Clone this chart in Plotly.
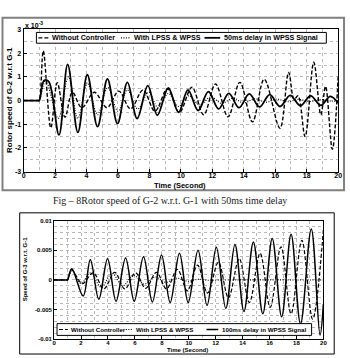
import plotly.graph_objects as go

W, H = 350, 358

# ---------------- Top chart data (values in units of 1e-3) ----------------
t_top_nc = [0, 0.95, 1.0, 1.25, 1.73, 2.14, 2.63, 3.1, 3.7, 4.5, 5.3, 6.05, 6.8, 7.6, 8.35, 9.15,
            9.9, 10.7, 11.45, 12.2, 13.0, 13.75, 14.55, 15.3, 16.3, 16.85, 17.2, 17.45, 17.9,
            18.45, 18.9, 19.2, 19.63, 20]
v_top_nc = [0, 0, 0, 2.1, -1.15, 0.75, -0.7, 0.35, -0.3, 0.35, -0.3, 0.4, -0.35, 0.45, -0.45, 0.5,
            -0.5, 0.56, -0.6, 0.7, -0.69, 0.77, -0.9, 0.9, -1.17, 1.19, 0.05, 0.2, -1.52,
            1.62, -0.6, 0.6, -2.06, 1.0]

t_top_lw = [0, 0.95, 1.0, 1.4, 2.2, 2.85, 3.45, 4.05, 4.7, 5.35, 6.0, 6.6, 7.25, 7.95, 8.55, 9.2,
            9.85, 10.5, 11.2, 11.9, 12.6, 13.3, 14.0, 14.7, 15.4, 16.1, 16.8, 17.5, 18.2, 18.9,
            19.6, 20]
v_top_lw = [0, 0, 0, 0.85, -0.75, 1.0, -0.75, 0.75, -0.6, 0.55, -0.45, 0.45, -0.35, 0.35, -0.3, 0.3,
            -0.25, 0.2, -0.18, 0.15, -0.12, 0.1, -0.1, 0.08, -0.07, 0.06, -0.05, 0.05, -0.04, 0.04,
            -0.03, 0]

t_top_d = [0, 0.95, 1.0, 1.3, 1.6, 2.25, 2.8, 3.45, 4.05, 4.7, 5.33, 5.97, 6.6, 7.22, 7.9, 8.5,
           9.2, 9.85, 10.45, 11.1, 11.75, 12.4, 13.05, 13.7, 14.35, 15.0, 15.65, 16.3, 16.95,
           17.6, 18.25, 18.9, 19.5, 20]
v_top_d = [0, 0, 0, 0.85, 0.8, -1.45, 1.53, -1.34, 1.09, -1.1, 0.91, -0.97, 0.77, -0.76, 0.63, -0.62,
           0.53, -0.5, 0.45, -0.42, 0.38, -0.35, 0.3, -0.3, 0.28, -0.27, 0.25, -0.25, 0.22,
           -0.22, 0.2, -0.2, 0.18, -0.1]

top_yticks = [-3, -2, -1, 0, 1, 2, 3]
top_ytext = ["-3", "-2", "-1", "0", "1", "2", "3"]

# ---------------- Bottom chart data ----------------
t_bot_nc = [0, 0.95, 1.0, 1.3, 2.1, 2.9, 3.7, 4.5, 5.25, 6.05, 6.8, 7.6, 8.35, 9.15, 9.9, 10.65,
            11.4, 12.2, 12.95, 13.75, 14.5, 15.3, 16.05, 16.85, 17.6, 18.4, 19.2, 20]
v_bot_nc = [0, 0, 0, 0.0017, -0.0006, 0.0012, -0.0015, 0.0013, -0.0015, 0.0012, -0.0014, 0.0013,
            -0.0015, 0.0018, -0.0018, 0.0025, -0.0022, 0.003, -0.003, 0.0036, -0.0038, 0.0045,
            -0.0046, 0.0056, -0.0057, 0.0067, -0.0066, 0.0085]

t_bot_lw = [0, 0.95, 1.0, 1.35, 2.0, 2.7, 3.5, 4.3, 5.1, 5.9, 6.7, 7.5, 8.3, 9.1, 9.9, 10.7,
            11.5, 12.5, 20]
v_bot_lw = [0, 0, 0, 0.0017, -0.0006, 0.0012, -0.0012, 0.0011, -0.001, 0.0008, -0.0007, 0.0005,
            -0.0004, 0.0003, -0.0002, 0.0001, -0.00005, 0, 0]

t_bot_d = [0, 0.95, 1.0, 1.31, 2.16, 2.69, 3.32, 3.97, 4.6, 5.31, 5.95, 6.64, 7.3, 7.98, 8.62,
           9.31, 9.96, 10.69, 11.36, 12.05, 12.75, 13.43, 14.1, 14.8, 15.5, 16.2, 16.9, 17.6,
           18.3, 19.1, 19.75, 20]
v_bot_d = [0, 0, 0, 0.0019, -0.0027, 0.0034, -0.00325, 0.0036, -0.0036, 0.0037, -0.0036, 0.0039,
           -0.0037, 0.0042, -0.0038, 0.0045, -0.0038, 0.005, -0.0043, 0.0055, -0.0048, 0.006,
           -0.0053, 0.0064, -0.0057, 0.007, -0.0062, 0.0077, -0.0074, 0.0086, -0.0093, -0.004]

bot_yticks = [-0.01, -0.005, 0, 0.005, 0.01]
bot_ytext = ["-0.01", "-0.005", "0", "0.005", "0.01"]

legend_top = ["Without Controller", "With LPSS & WPSS", "50ms delay in WPSS Signal"]
legend_bot = ["Without Controller", "With LPSS & WPSS", "100ms delay in WPSS Signal"]
caption = "Fig \u2013 8Rotor speed of G-2 w.r.t. G-1 with 50ms time delay"


def px(x):
    return x / W


def py(y):
    return 1 - y / H


DASH = "4px,2px"
DOT = "1px,1.5px"

fig = go.Figure()
fig.add_trace(go.Scatter(x=t_top_lw, y=v_top_lw, mode="lines", xaxis="x", yaxis="y",
                         line=dict(color="black", width=1.1, dash=DOT, shape="spline", smoothing=1.0)))
fig.add_trace(go.Scatter(x=t_top_nc, y=v_top_nc, mode="lines", xaxis="x", yaxis="y",
                         line=dict(color="black", width=1.4, dash=DASH, shape="spline", smoothing=1.0)))
fig.add_trace(go.Scatter(x=t_top_d, y=v_top_d, mode="lines", xaxis="x", yaxis="y",
                         line=dict(color="black", width=1.8, shape="spline", smoothing=1.0)))

fig.add_trace(go.Scatter(x=t_bot_lw, y=v_bot_lw, mode="lines", xaxis="x2", yaxis="y2",
                         line=dict(color="black", width=1.1, dash=DOT, shape="spline", smoothing=1.0)))
fig.add_trace(go.Scatter(x=t_bot_nc, y=v_bot_nc, mode="lines", xaxis="x2", yaxis="y2",
                         line=dict(color="black", width=1.2, dash=DASH, shape="spline", smoothing=1.0)))
fig.add_trace(go.Scatter(x=t_bot_d, y=v_bot_d, mode="lines", xaxis="x2", yaxis="y2",
                         line=dict(color="black", width=1.5, shape="spline", smoothing=1.0)))

GRID = "#b8b8b8"
tf_top = dict(family="Liberation Sans", size=7, color="black", weight="bold")
tf_bot = dict(family="Liberation Sans", size=6, color="black", weight="bold")

common = dict(showline=True, mirror=True, linecolor="black", linewidth=1, zeroline=False,
              showgrid=True, gridcolor=GRID, griddash="dot", gridwidth=1,
              ticks="inside", ticklen=3, tickcolor="black")

fig.update_layout(
    width=W, height=H, margin=dict(l=0, r=0, t=0, b=0),
    paper_bgcolor="white", plot_bgcolor="white", showlegend=False,
    xaxis=dict(domain=[px(22), px(342)], range=[0, 20], dtick=2, tick0=0, anchor="y",
               tickfont=tf_top, ticklabelstandoff=-3,
               minor=dict(dtick=1, showgrid=True, gridcolor=GRID, griddash="dot"), **common),
    yaxis=dict(domain=[py(171), py(26)], range=[-3, 3], tickvals=top_yticks, ticktext=top_ytext,
               anchor="x", tickfont=tf_top,
               minor=dict(dtick=0.5, tick0=0, showgrid=True, gridcolor=GRID, griddash="dot"), **common),
    xaxis2=dict(domain=[px(53), px(327)], range=[0, 20], dtick=2, tick0=0, anchor="y2",
                tickfont=tf_bot, ticklabelstandoff=-3,
                minor=dict(dtick=1, showgrid=True, gridcolor=GRID, griddash="dot"), **common),
    yaxis2=dict(domain=[py(342), py(221)], range=[-0.01, 0.01], tickvals=bot_yticks,
                ticktext=bot_ytext, anchor="x2", tickfont=tf_bot,
                minor=dict(dtick=0.001, tick0=0, showgrid=True, gridcolor=GRID, griddash="dot"), **common),
)

shapes = []
# outer frames
shapes.append(dict(type="rect", xref="paper", yref="paper", x0=px(0.5), x1=px(348), y0=py(190), y1=py(14),
                   line=dict(color="#808080", width=2), fillcolor="rgba(0,0,0,0)", layer="below"))
shapes.append(dict(type="rect", xref="paper", yref="paper", x0=px(18), x1=px(338), y0=py(357), y1=py(213),
                   line=dict(color="black", width=1), fillcolor="rgba(0,0,0,0)", layer="below"))
# legend boxes
shapes.append(dict(type="rect", xref="paper", yref="paper", x0=px(35), x1=px(330), y0=py(40), y1=py(29),
                   line=dict(color="black", width=1), fillcolor="white"))
shapes.append(dict(type="rect", xref="paper", yref="paper", x0=px(56), x1=px(315), y0=py(338), y1=py(326),
                   line=dict(color="black", width=1), fillcolor="white"))

def sample(x0, x1, y, dash, width):
    return dict(type="line", xref="paper", yref="paper", x0=px(x0), x1=px(x1), y0=py(y), y1=py(y),
                line=dict(color="black", width=width, dash=dash))

shapes += [sample(37, 48, 34.5, DASH, 1.4), sample(121, 131, 34.5, DOT, 1.1), sample(206, 222, 34.5, "solid", 1.8)]
shapes += [sample(58, 67, 332, DASH, 1.2), sample(126, 133, 332, DOT, 1.1), sample(208, 220, 332, "solid", 1.5)]
fig.update_layout(shapes=shapes)

ann = []
lf_top = dict(family="Liberation Sans", size=7.2, color="black", weight="bold")
lf_bot = dict(family="Liberation Sans", size=6.2, color="black", weight="bold")
for x, txt in zip([49, 132, 224], legend_top):
    ann.append(dict(xref="paper", yref="paper", x=px(x), y=py(34.5), text=txt, showarrow=False,
                    xanchor="left", yanchor="middle", font=lf_top))
for x, txt in zip([68, 134, 222], legend_bot):
    ann.append(dict(xref="paper", yref="paper", x=px(x), y=py(332), text=txt, showarrow=False,
                    xanchor="left", yanchor="middle", font=lf_bot))

ann.append(dict(xref="paper", yref="paper", x=px(7), y=py(98), text="Rotor speed of G-2 w.r.t G-1",
                textangle=-90, showarrow=False, xanchor="center", yanchor="middle",
                font=dict(family="Liberation Sans", size=8, color="black", weight="bold")))
ann.append(dict(xref="paper", yref="paper", x=px(181), y=py(185), text="Time (Second)",
                showarrow=False, xanchor="center", yanchor="middle",
                font=dict(family="Liberation Sans", size=7.5, color="black", weight="bold")))
ann.append(dict(xref="paper", yref="paper", x=px(21), y=py(21), text="x 10<sup>-3</sup>",
                showarrow=False, xanchor="left", yanchor="middle",
                font=dict(family="Liberation Sans", size=7, color="black", weight="bold")))
ann.append(dict(xref="paper", yref="paper", x=px(171), y=py(200), text=caption,
                showarrow=False, xanchor="center", yanchor="middle",
                font=dict(family="Liberation Serif", size=10, color="#222")))
ann.append(dict(xref="paper", yref="paper", x=px(23), y=py(271), text="Speed of G-3 w.r.t. G-1",
                textangle=-90, showarrow=False, xanchor="center", yanchor="middle",
                font=dict(family="Liberation Sans", size=6, color="black", weight="bold")))
ann.append(dict(xref="paper", yref="paper", x=px(189), y=py(352.5), text="Time (Second)",
                showarrow=False, xanchor="center", yanchor="middle",
                font=dict(family="Liberation Sans", size=6, color="black", weight="bold")))
fig.update_layout(annotations=ann)

fig.write_html("out.html")
